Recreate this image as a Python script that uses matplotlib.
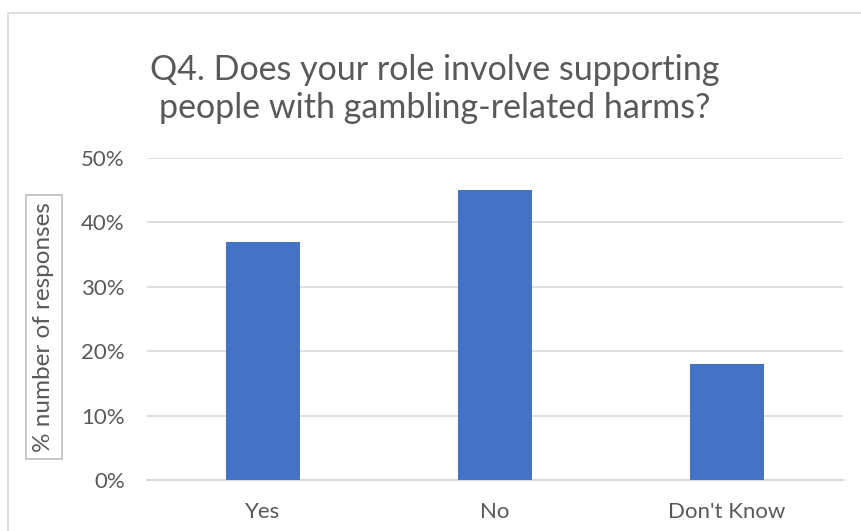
import matplotlib.pyplot as plt
from matplotlib.patches import Rectangle

# Survey answers and share of responses
categories = ["Yes", "No", "Don't Know"]
shares = [0.37, 0.45, 0.18]
yticks = [0.0, 0.1, 0.2, 0.3, 0.4, 0.5]
ytick_labels = ["0%", "10%", "20%", "30%", "40%", "50%"]

TEXT = "#595959"
GRID = "#d9d9d9"
BAR = "#4472c4"

plt.rcParams['font.family'] = ['Lato', 'DejaVu Sans']

fig = plt.figure(figsize=(8.61, 5.31), dpi=100)

# Chart area frame
fig.patches.append(Rectangle((8 / 861, -0.1), 1.0, 1 - 13 / 531 + 0.1,
                             transform=fig.transFigure, fill=False,
                             edgecolor="#d9d9d9", linewidth=1.2))

ax = fig.add_axes([147 / 861, 1 - 480 / 531, 696 / 861, 322 / 531])

x = range(len(categories))
ax.bar(x, shares, width=0.315, color=BAR, zorder=3)

ax.set_xlim(-0.5, 2.5)
ax.set_ylim(0, 0.5)
ax.set_yticks(yticks)
ax.set_yticklabels(ytick_labels)
ax.set_xticks(list(x))
ax.set_xticklabels(categories)

ax.grid(axis="y", color=GRID, linewidth=1.2, zorder=0)
for side in ["top", "right", "left"]:
    ax.spines[side].set_visible(False)
ax.spines["bottom"].set_color(GRID)
ax.spines["bottom"].set_linewidth(1.5)
ax.tick_params(axis="both", length=0, labelsize=16, colors=TEXT)
ax.tick_params(axis="y", pad=16)
ax.tick_params(axis="x", pad=16)

# Title
fig.text(435 / 861, 1 - 89 / 531,
         "Q4. Does your role involve supporting\npeople with gambling-related harms?",
         ha="center", va="center", fontsize=24.5, color=TEXT, linespacing=1.2)

# Boxed y-axis title
fig.text(44 / 861, 1 - 327 / 531, "% number of responses", rotation=90,
         ha="center", va="center", fontsize=17.5, color=TEXT,
         bbox=dict(boxstyle="square,pad=0.3", facecolor="white",
                   edgecolor="#bfbfbf", linewidth=1.2))

fig.savefig("out.png", dpi=100)
